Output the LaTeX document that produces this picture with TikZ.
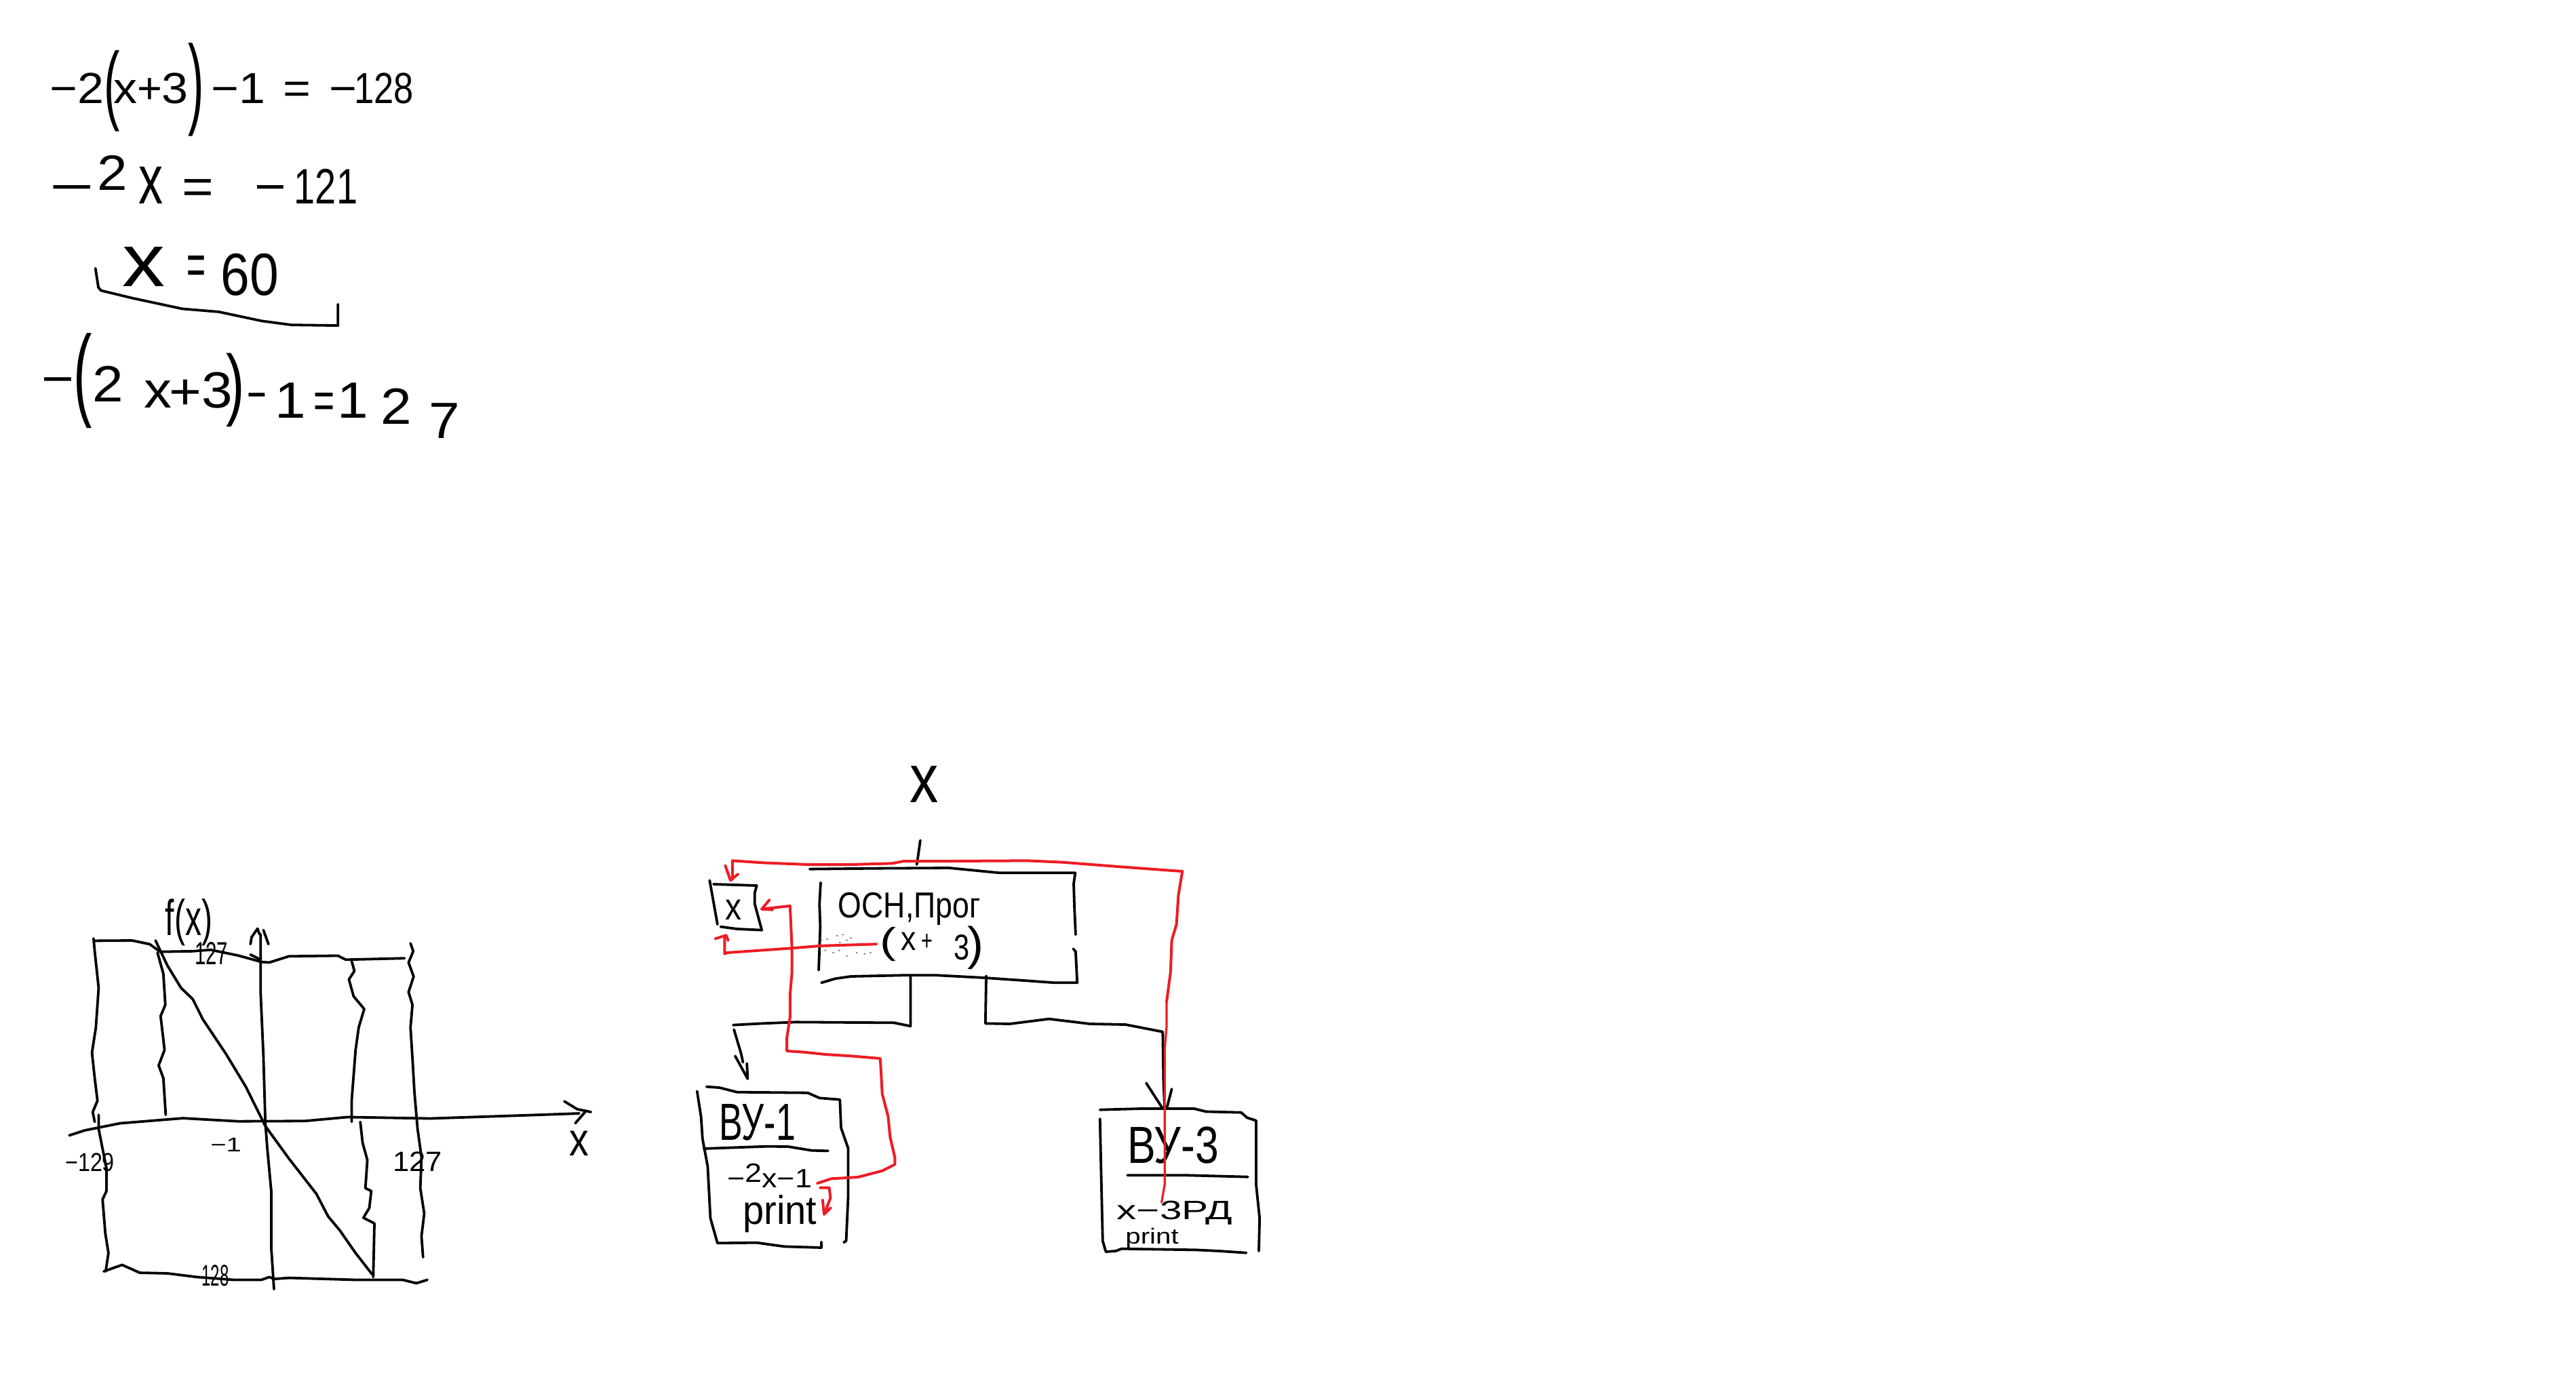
\documentclass[tikz,border=0pt]{standalone}
\usepackage{fontspec}
\setmainfont{Liberation Sans}
\definecolor{paintred}{HTML}{ED1C24}
\newcommand{\fsz}[1]{\fontsize{#1pt}{#1pt}\selectfont}
\newcommand{\kn}[1]{\hspace*{#1pt}}
\newcommand{\sx}[2]{\scalebox{#1}[1]{#2}}
\newcommand{\rb}[2]{\raisebox{#1pt}{#2}}
\newcommand{\tallp}[3]{\raisebox{#2pt}{\scalebox{1}[#1]{#3}}}
\newcommand{\ya}[1]{\scalebox{1}[.917]{#1}}
\newcommand{\yb}[1]{\scalebox{1}[.736]{#1}}
\newcommand{\yc}[1]{\scalebox{1}[.576]{#1}}
\newcommand{\ytall}[1]{\scalebox{1}[.74]{#1}}
\tikzset{
  ink/.style={draw=black,line width=0.95pt,line cap=round,line join=round},
  wire/.style={draw=paintred,line width=1pt,line cap=round,line join=round},
  thinwire/.style={draw=paintred,line width=0.8pt,line cap=round,line join=round},
  hand/.style={inner sep=0pt,outer sep=0pt,anchor=base west,text=black},
  zA/.style={x=0.12213pt,y=-0.11216pt},
  zB/.style={x=0.14459pt,y=-0.1040pt,shift={(12.5pt,-324.7pt)}},
  zC/.style={x=0.14459pt,y=-0.08333pt,shift={(250pt,-275pt)}},
  zD/.style={x=0.14459pt,y=-0.08333pt,shift={(250pt,-370pt)}}
}
\begin{document}
\begin{tikzpicture}
\path[use as bounding box,fill=white] (0,0) rectangle (949.5pt,-511.5pt);
% equations
\begin{scope}[zA]
\node[hand] (eqA) at (150,340) {\ya{\fsz{17.5}−2\tallp{2}{-4}{(}\kn{-2.3}x\sx{.9}{+}3\tallp{2.3}{-5}{)}\kn{2.5}−1\kn{6.7}=\kn{6.7}−\kn{-1}\sx{.75}{128}}};
\node[hand] (eqB) at (150,670) {\ya{\fsz{20}\sx{1.4}{−}\kn{1.3}\rb{5.5}{2}\kn{4}\scalebox{.9}[1.4]{x}\kn{7}=\kn{15}−\kn{3}\sx{.7}{121}}};
\node[hand] (eqC) at (370,970) {\ya{\fsz{24}\rb{3.6}{\fsz{30}\sx{1.05}{x}}\kn{8}\rb{4}{\sx{.5}{=}}\kn{5.5}\sx{.8}{60}}};
\node[hand] (eqD) at (125,1375) {\ya{\fsz{20.5}\rb{8.8}{−}\tallp{2}{4.6}{(}\rb{6.7}{2}\kn{7.7}\rb{4.3}{x}\kn{-1}\rb{3.7}{+}\rb{4.3}{3}\kn{-2.5}\tallp{1.55}{3.2}{)}\kn{1}\rb{2.7}{\sx{.6}{−}}\kn{3}1\kn{3}\sx{.65}{=}\kn{1}1\kn{4.5}\rb{-2.4}{2}\kn{6.3}\rb{-8}{7}}};
\draw[ink] (288,882) -- (297,945) -- (305,955) -- (400,980) -- (550,1015) -- (660,1025) -- (790,1055) -- (880,1068) -- (1020,1070) -- (1020,1000);
\end{scope}
% graph
\begin{scope}[zB]
\draw[ink] (152,205) -- (155,250) -- (165,380) -- (158,520) -- (148,610) -- (155,700) -- (162,780) -- (150,820) -- (155,855);
\draw[ink] (165,830) -- (165,880) -- (185,1020) -- (185,1100) -- (175,1130) -- (182,1250) -- (190,1320) -- (183,1385);
\draw[ink] (155,213) -- (250,212) -- (295,225) -- (322,252) -- (405,250) -- (450,245) -- (520,265) -- (580,288) -- (600,290) -- (650,268) -- (775,266) -- (795,280) -- (945,275);
\draw[ink] (960,222) -- (967,250) -- (955,290) -- (968,340) -- (955,395) -- (965,440) -- (960,520) -- (965,630) -- (970,750) -- (978,880) -- (988,980) -- (985,1090) -- (995,1180) -- (988,1260) -- (992,1335);
\draw[ink] (178,1385) -- (225,1362) -- (270,1390) -- (340,1392) -- (415,1405) -- (510,1415) -- (580,1415) -- (600,1405) -- (612,1412) -- (650,1408) -- (820,1415) -- (940,1415) -- (975,1427) -- (1003,1415);
\draw[ink] (578,190) -- (578,400) -- (585,620) -- (590,860) -- (595,950) -- (605,1100) -- (605,1300) -- (612,1448);
\draw[ink] (552,225) -- (555,200) -- (570,170) -- (575,190);
\draw[ink] (585,175) -- (598,225);
\draw[ink] (552,262) -- (578,280);
\draw[ink] (90,903) -- (130,885) -- (220,860) -- (380,842) -- (520,853) -- (690,852) -- (800,838) -- (1010,843) -- (1290,830) -- (1390,825);
\draw[ink] (1352,782) -- (1385,810) -- (1420,820);
\draw[ink] (1405,820) -- (1380,860);
\draw[ink] (310,212) -- (340,300) -- (375,380) -- (405,420) -- (430,490) -- (490,615) -- (540,730) -- (590,870) -- (650,985) -- (720,1110) -- (750,1190) -- (780,1240) -- (820,1320) -- (862,1395);
\draw[ink] (315,255) -- (330,330) -- (335,440) -- (323,480) -- (333,600) -- (318,655) -- (330,700) -- (336,830);
\draw[ink] (810,285) -- (817,320) -- (803,350) -- (815,410) -- (842,455) -- (828,520) -- (820,600) -- (810,780) -- (810,855);
\draw[ink] (832,855) -- (838,930) -- (850,990) -- (845,1090) -- (860,1100) -- (855,1160) -- (840,1195) -- (868,1215) -- (865,1405);
\node[hand] (fx) at (335,195) {\yb{\fsz{12}\scalebox{1}[2.1]{f(x)}}};
\node[hand] (topmark) at (410,298) {\yb{\fsz{16}\sx{.46}{127}}};
\node[hand] (minusone) at (450,960) {\yb{\fsz{10}−1}};
\node[hand] (leftmark) at (80,1030) {\yb{\fsz{13}\sx{.62}{−129}}};
\node[hand] (rightmark) at (915,1030) {\yb{\fsz{14}\sx{.78}{127}}};
\node[hand] (xlabel) at (1365,975) {\yb{\fsz{18}\scalebox{.8}[1.3]{x}}};
\node[hand] (botmark) at (428,1437) {\yb{\fsz{15}\sx{.4}{128}}};
\end{scope}
% main program box
\begin{scope}[zC]
\coordinate (mainIn) at (608,525);
\coordinate (mainOutL) at (592,1018);
\coordinate (mainOutR) at (785,1018);
\coordinate (boxXtop) at (138,590);
\coordinate (boxXright) at (213,722);
\coordinate (boxXbot) at (118,840);
\coordinate (callStart) at (505,877);
\coordinate (wireCorner) at (1285,555);
\coordinate (redRightMid) at (1245,1130);
\coordinate (redLeftMid) at (285,1100);
\node[hand] (xin) at (590,250) {\yc{\fsz{44}\sx{.48}{x}}};
\draw[ink] (617,418) -- (612,480) -- (mainIn);
\draw[ink] (90,612) -- (200,618) -- (195,650) -- (195,700) -- (213,815) -- (150,810) -- (108,800);
\draw[ink] (80,595) -- (100,790);
\node[hand] (xbox) at (120,770) {\yc{\fsz{24}\sx{.5}{x}}};
\draw[ink] (335,545) -- (500,542) -- (690,540) -- (820,562) -- (1012,562) -- (1008,610) -- (1010,720) -- (1013,835);
\draw[ink] (1007,898) -- (1013,910) -- (1017,1048) -- (960,1048) -- (880,1038) -- (780,1026) -- (660,1015) -- (570,1015) -- (440,1020) -- (400,1030) -- (365,1048);
\draw[ink] (363,605) -- (360,700) -- (362,800) -- (358,992);
\node[hand] (mainT) at (408,760) {\ytall{\fsz{18}\sx{.62}{ОСН,Прог}}};
\node[hand] (mainC) at (515,905) {\yc{\fsz{18}\tallp{1.3}{-2}{(}\kn{1.7}\scalebox{.62}[1.2]{x}\kn{2}\sx{.4}{+}\kn{7.6}\rb{-5.8}{\fsz{23}\sx{.45}{3}}\kn{-.7}\tallp{1.65}{-6}{)}}};
\foreach \dx/\dy in {365/860,380/855,405/840,420/835,440/850,430/860,375/905,395/915,410/905,430/930,455/915,475/920,490/915,385/880,412/870,362/880}
  \fill[black!60] (\dx,\dy) circle[radius=3];
\draw[wire] (callStart) -- (360,885) -- (290,895) -- (125,915) -- (118,920) -- (boxXbot);
\draw[wire] (95,853) -- (122,838) -- (127,860);
\draw[wire] (wireCorner) -- (1205,545) -- (1090,530) -- (980,515) -- (890,508) -- (695,510) -- (575,510) -- (545,520) -- (440,525) -- (330,525) -- (215,517) -- (138,508) -- (boxXtop);
\draw[wire] (120,530) -- (133,595) -- (152,568);
\draw[wire] (wireCorner) -- (1275,660) -- (1270,790) -- (1258,860) -- (1255,1000) -- (redRightMid);
\draw[wire] (boxXright) -- (285,708) -- (290,900) -- (290,1000) -- (redLeftMid);
\draw[wire] (232,682) -- (boxXright) -- (240,725);
\end{scope}
% lower boxes
\begin{scope}[zD]
\coordinate (vuOneIn) at (177,333);
\coordinate (vuThreeIn) at (1240,465);
\coordinate (vuOneExpr) at (355,795);
\coordinate (vuOnePrint) at (372,932);
\coordinate (vuThreeExpr) at (1232,880);
\draw[ink] (mainOutL) -- (592,100) -- (550,85) -- (300,82) -- (215,88) -- (140,95);
\draw[ink] (142,115) -- (160,220) -- (165,260);
\draw[ink] (145,232) -- (vuOneIn) -- (175,265);
\draw[ink] (mainOutR) -- (783,88) -- (845,90) -- (945,68) -- (1050,90) -- (1140,93) -- (1235,125) -- (1237,350) -- (vuThreeIn);
\draw[ink] (1193,352) -- (1235,465);
\draw[ink] (1258,378) -- (1245,465);
% BY-1
\draw[ink] (72,368) -- (105,372) -- (150,392) -- (330,395) -- (360,418) -- (412,425) -- (415,550) -- (433,640) -- (433,860) -- (428,1050) -- (422,1057);
\draw[ink] (48,388) -- (58,500) -- (62,600) -- (75,720) -- (82,950) -- (100,1060) -- (200,1058) -- (270,1075) -- (365,1080) -- (365,1055);
\draw[ink] (65,642) -- (225,632) -- (280,633) -- (340,650) -- (382,652);
\node[hand] (vuA) at (105,605) {\ytall{\fsz{26}\sx{.5}{ВУ-1}}};
\node[hand] (vuAexpr) at (125,815) {\yc{\fsz{17}\sx{.66}{−\rb{3.6}{2}x−1}}};
\node[hand] (vuAprint) at (165,975) {\ytall{\fsz{20}\sx{.7}{print}}};
% BY-3
\draw[ink] (1075,470) -- (1180,465) -- (1240,465) -- (1315,465) -- (1345,478) -- (1435,482) -- (1450,505) -- (1473,518) -- (1473,800) -- (1482,950) -- (1480,1095);
\draw[ink] (1075,510) -- (1078,750) -- (1082,1050) -- (1090,1098) -- (1115,1095) -- (1130,1085) -- (1320,1090) -- (1380,1095) -- (1448,1103);
\draw[ink] (1145,760) -- (1300,760) -- (1452,767);
\node[hand] (vuB) at (1145,705) {\ytall{\fsz{26}\sx{.6}{ВУ-3}}};
\node[hand] (vuBexpr) at (1118,955) {\yc{\fsz{17}\sx{.86}{x−3РД}}};
\node[hand] (vuBprint) at (1140,1062) {\yc{\fsz{14}\sx{.72}{print}}};
% red
\draw[thinwire] (redRightMid) -- (1245,100) -- (1240,200) -- (1240,800) -- (vuThreeExpr);
\draw[wire] (redLeftMid) -- (285,60) -- (277,150) -- (277,210) -- (320,215) -- (375,225) -- (440,232) -- (515,243) -- (520,400) -- (535,500) -- (540,590) -- (552,680) -- (552,712) -- (520,740) -- (458,768) -- (390,775) -- (vuOneExpr);
\draw[wire] (362,815) -- (385,815) -- (388,860) -- (378,905) -- (vuOnePrint);
\draw[wire] (368,870) -- (vuOnePrint) -- (388,905);
\end{scope}
\end{tikzpicture}
\end{document}
